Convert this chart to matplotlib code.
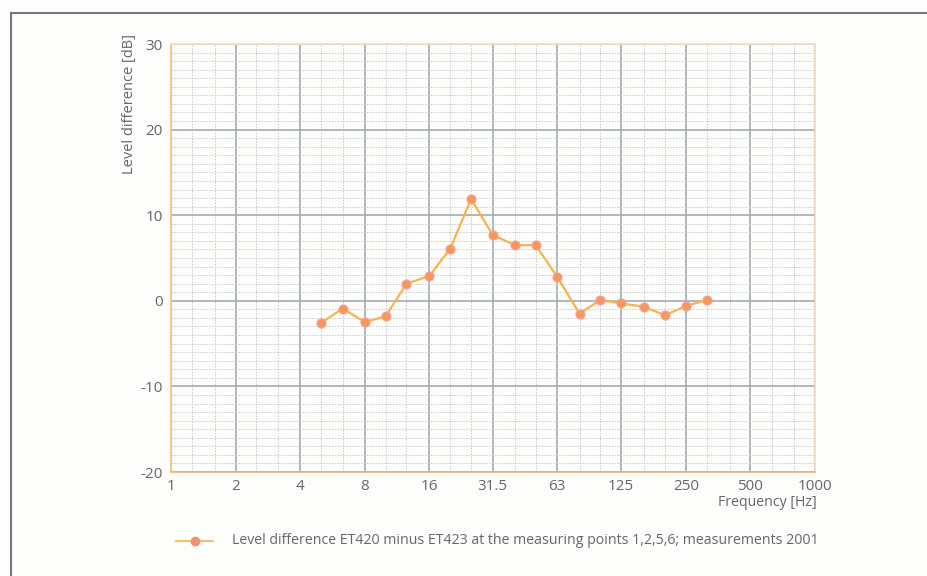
import matplotlib
matplotlib.use("Agg")
import matplotlib.pyplot as plt
from matplotlib.lines import Line2D
from matplotlib.ticker import FixedLocator, FixedFormatter, NullFormatter

plt.rcParams['font.family'] = ['Open Sans', 'DejaVu Sans']
plt.rcParams['axes.unicode_minus'] = False

# Data (third-octave band centre frequencies, Hz)
freqs = [5, 6.3, 8, 10, 12.5, 16, 20, 25, 31.5, 40, 50, 63, 80, 100, 125, 160, 200, 250, 315]
level_diff = [-2.6, -0.9, -2.5, -1.8, 2.0, 2.9, 6.1, 11.9, 7.7, 6.5, 6.5, 2.8, -1.5, 0.1, -0.3, -0.7, -1.7, -0.6, 0.1]

major_ticks = [1, 2, 4, 8, 16, 31.5, 63, 125, 250, 500, 1000]
major_labels = ['1', '2', '4', '8', '16', '31.5', '63', '125', '250', '500', '1000']
minor_ticks = [1.25, 1.6, 2.5, 3.15, 5, 6.3, 10, 12.5, 20, 25, 40, 50, 80, 100,
               160, 200, 315, 400, 630, 800]
y_ticks = [-20, -10, 0, 10, 20, 30]

legend_label = "Level difference ET420 minus ET423 at the measuring points 1,2,5,6; measurements 2001"

text_color = '#666666'
fig = plt.figure(figsize=(9.27, 5.76), dpi=100)
fig.patch.set_facecolor('#fdfdfc')
ax = fig.add_axes([171/927, 1-472/576, (815-171)/927, (472-44)/576])
ax.set_facecolor('#fdfdfc')

ax.set_xscale('log')
ax.set_xlim(1, 1000)
ax.set_ylim(-20, 30)
ax.xaxis.set_major_locator(FixedLocator(major_ticks))
ax.xaxis.set_major_formatter(FixedFormatter(major_labels))
ax.xaxis.set_minor_locator(FixedLocator(minor_ticks))
ax.xaxis.set_minor_formatter(NullFormatter())
ax.set_yticks(y_ticks)
ax.yaxis.set_minor_locator(FixedLocator([v for v in range(-20, 31) if v % 10 != 0]))

ax.grid(which='minor', color='#c4c9ce', linestyle=(0, (1.5, 1.5)), linewidth=0.7)
ax.grid(which='major', color='#a3abb4', linestyle='-', linewidth=1.2)
ax.set_axisbelow(True)
ax.tick_params(which='both', length=0)
ax.tick_params(axis='y', pad=6, labelsize=11, labelcolor=text_color)
ax.tick_params(axis='x', pad=5, labelsize=11, labelcolor=text_color)

ax.spines['left'].set_color('#f6c870')
ax.spines['bottom'].set_color('#f4b07a')
ax.spines['top'].set_color('#f9dcc4')
ax.spines['right'].set_color('#f9d8b8')
for s in ax.spines.values():
    s.set_linewidth(1.2)

fig.text(129/927, 1-104/576, 'Level difference [dB]', rotation=90, ha='center',
         va='center', fontsize=10.5, color=text_color)

ax.plot(freqs, level_diff, color='#f8b44a', linewidth=1.6, marker='o',
        markersize=6.5, markerfacecolor='#f6985a', markeredgecolor='#f4a0a0',
        markeredgewidth=0.8, zorder=5, clip_on=False)

fig.text(817/927, 1-502/576, 'Frequency [Hz]', ha='right', va='center',
         fontsize=10.2, color=text_color)

# Legend
fig.add_artist(Line2D([176/927, 213/927], [1-541/576, 1-541/576],
                      color='#f8b44a', linewidth=1.2))
fig.add_artist(Line2D([195/927], [1-541/576], marker='o', markersize=6,
                      markerfacecolor='#f49070', markeredgecolor='#f49070',
                      linestyle='none'))
fig.text(232/927, 1-541/576, legend_label, ha='left', va='center',
         fontsize=10.2, color=text_color)

# Outer frame
fig.add_artist(Line2D([11/927, 11/927], [0, 1-13/576], color='#777777', linewidth=1.5))
fig.add_artist(Line2D([11/927, 1], [1-13/576, 1-13/576], color='#777777', linewidth=1.5))

fig.savefig('out.png', dpi=100, facecolor=fig.get_facecolor())
